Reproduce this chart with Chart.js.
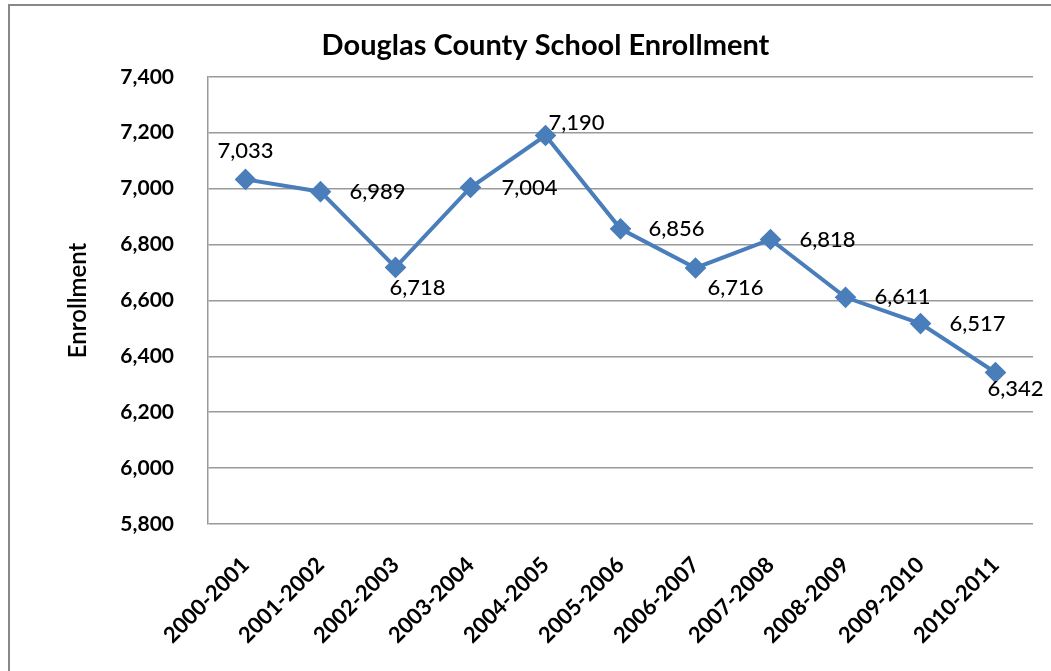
<!DOCTYPE html>
<html>
<head>
<meta charset="utf-8">
<script src="https://cdn.jsdelivr.net/npm/chart.js@4/dist/chart.umd.min.js"></script>
<style>
  html, body { margin: 0; padding: 0; background: #fff; }
  #wrap { position: relative; width: 1051px; height: 671px; overflow: hidden; }
  #frame { position: absolute; left: 8px; top: 4px; width: 1100px; height: 700px; border: 2px solid #888; box-sizing: border-box; }
  canvas { position: absolute; left: 0; top: 0; }
</style>
</head>
<body>
<div id="wrap">
  <div id="frame"></div>
  <canvas id="enrollChart" width="1051" height="671"></canvas>
</div>
<script>
// === data ===
const years = ['2000-2001','2001-2002','2002-2003','2003-2004','2004-2005','2005-2006',
               '2006-2007','2007-2008','2008-2009','2009-2010','2010-2011'];
const enrollment = [7033, 6989, 6718, 7004, 7190, 6856, 6716, 6818, 6611, 6517, 6342];
const yMin = 5800, yMax = 7400, yStep = 200;

// where each value label sits relative to its marker (dx, dy in px)
const labelOffsets = [[0,-28],[57,0],[22,20],[59,0],[31,-13],[56,0],[40,20],[57,0],[57,0],[57,0],[20,16]];

const blue = '#4a7ebb';
const fontFam = 'Lato, "Open Sans", sans-serif';

// draws the value labels next to each point
const valueLabels = {
  id: 'valueLabels',
  afterDatasetsDraw(chart) {
    const c = chart.ctx;
    const pts = chart.getDatasetMeta(0).data;
    c.save();
    c.font = '500 22px ' + fontFam;
    c.fillStyle = '#000';
    c.textAlign = 'center';
    c.textBaseline = 'middle';
    pts.forEach((p, i) => {
      const [dx, dy] = labelOffsets[i];
      c.fillText(enrollment[i].toLocaleString('en-US'), p.x + dx, p.y + dy);
    });
    c.restore();
  }
};

const ctx = document.getElementById('enrollChart').getContext('2d');
new Chart(ctx, {
  type: 'line',
  data: {
    labels: years,
    datasets: [{
      label: 'Enrollment',
      data: enrollment,
      borderColor: blue,
      backgroundColor: blue,
      borderWidth: 4,
      pointStyle: 'rectRot',
      pointRadius: 8,
      pointHoverRadius: 8,
      tension: 0,
      fill: false
    }]
  },
  options: {
    responsive: false,
    animation: false,
    layout: { padding: { left: 58, right: 18, top: 0, bottom: 0 } },
    plugins: {
      legend: { display: false },
      tooltip: { enabled: false },
      title: {
        display: true,
        text: 'Douglas County School Enrollment',
        color: '#000',
        font: { family: fontFam, size: 29, weight: 'bold' },
        padding: { top: 28, bottom: 14 }
      }
    },
    scales: {
      x: {
        offset: true,
        grid: { display: false, drawTicks: false },
        border: { display: false },
        ticks: {
          color: '#000',
          font: { family: fontFam, size: 22, weight: 'bold' },
          minRotation: 45, maxRotation: 45,
          padding: 28
        },
        afterFit(s) { s.height = 671 - 524; }
      },
      y: {
        min: yMin, max: yMax,
        grid: { color: '#9a9a9a', lineWidth: 1.5, drawTicks: false },
        border: { display: true, color: '#9a9a9a', width: 1.5 },
        ticks: {
          stepSize: yStep,
          color: '#000',
          padding: 34,
          font: { family: fontFam, size: 21, weight: 'bold' },
          callback: v => v.toLocaleString('en-US')
        },
        title: {
          display: true,
          text: 'Enrollment',
          color: '#000',
          font: { family: fontFam, size: 24, weight: '600' },
          padding: { top: 6, bottom: 0 }
        },
        afterFit(s) { s.width = 208 - 58; }
      }
    }
  },
  plugins: [valueLabels]
});
</script>
</body>
</html>
